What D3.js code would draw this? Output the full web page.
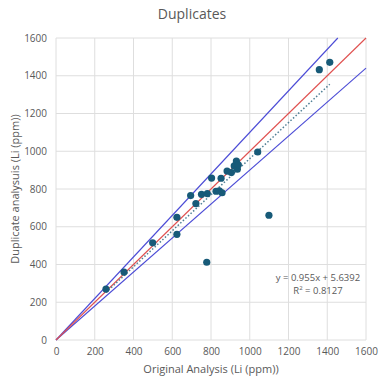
<!DOCTYPE html>
<html>
<head>
<meta charset="utf-8">
<script src="https://cdn.jsdelivr.net/npm/d3@7"></script>
<style>
  body { margin: 0; background: #fff; }
  text { font-family: "Open Sans", "Noto Sans", sans-serif; fill: #595959; }
</style>
</head>
<body>
<div class="viz"></div>
<script>
// data: original vs duplicate (Li ppm)
var original  = [258, 351, 499, 624, 624, 695, 722, 751, 781, 803, 826, 843, 857, 852, 883, 905, 920, 931, 936, 941, 1041, 1099, 778, 1359, 1413];
var duplicate = [270, 360, 515, 560, 650, 765, 723, 772, 776, 858, 788, 790, 780, 857, 895, 887, 922, 948, 905, 928, 996, 661, 412, 1432, 1471];
var ticks = [0, 200, 400, 600, 800, 1000, 1200, 1400, 1600];
var trendSlope = 0.955, trendIntercept = 5.6392;
var limitSlopes = [1.1, 0.9];

var w = 383, h = 384;
var padLeft = 56, padRight = 366, padTop = 38, padBottom = 340;

var xScale = d3.scaleLinear().domain([0, 1600]).range([padLeft, padRight]);
var yScale = d3.scaleLinear().domain([0, 1600]).range([padBottom, padTop]);

var svg = d3.select(".viz").append("svg")
    .attr("width", w)
    .attr("height", h);

// gridlines
svg.append("g").selectAll("line")
    .data(ticks).enter().append("line")
    .attr("x1", d => xScale(d)).attr("x2", d => xScale(d))
    .attr("y1", padTop).attr("y2", padBottom)
    .attr("stroke", "#dedede").attr("stroke-width", 1);
svg.append("g").selectAll("line")
    .data(ticks).enter().append("line")
    .attr("x1", padLeft).attr("x2", padRight)
    .attr("y1", d => yScale(d)).attr("y2", d => yScale(d))
    .attr("stroke", "#dedede").attr("stroke-width", 1);

// axes (labels only)
var xaxis = d3.axisBottom(xScale).tickValues(ticks).tickFormat(d3.format("d")).tickSize(0).tickPadding(8);
var yaxis = d3.axisLeft(yScale).tickValues(ticks).tickFormat(d3.format("d")).tickSize(0).tickPadding(9);
svg.append("g").attr("transform", "translate(0," + padBottom + ")").call(xaxis)
    .call(g => g.select(".domain").remove())
    .selectAll("text").attr("font-size", "10px").attr("fill", "#595959");
svg.append("g").attr("transform", "translate(" + padLeft + ",0)").call(yaxis)
    .call(g => g.select(".domain").remove())
    .selectAll("text").attr("font-size", "10px").attr("fill", "#595959");

// +/-10% lines and 1:1 line
var line = d3.line().x(d => xScale(d[0])).y(d => yScale(d[1]));
limitSlopes.forEach(function(s) {
    var xEnd = Math.min(1600, 1600 / s);
    svg.append("path")
        .attr("d", line([[0, 0], [xEnd, xEnd * s]]))
        .attr("stroke", "#4b4bd6").attr("stroke-width", 1.1).attr("fill", "none");
});
svg.append("path")
    .attr("d", line([[0, 0], [1600, 1600]]))
    .attr("stroke", "#e0504f").attr("stroke-width", 1.1).attr("fill", "none");

// linear trendline (dotted)
var xMin = d3.min(original), xMax = d3.max(original);
svg.append("path")
    .attr("d", line([[xMin, trendSlope * xMin + trendIntercept], [xMax, trendSlope * xMax + trendIntercept]]))
    .attr("stroke", "#4f7f95").attr("stroke-width", 1.5)
    .attr("stroke-dasharray", "1.5,2").attr("fill", "none");

// points
svg.selectAll("circle")
    .data(original)
    .enter()
    .append("circle")
    .attr("cx", d => xScale(d))
    .attr("cy", (d, i) => yScale(duplicate[i]))
    .attr("r", 3.6)
    .attr("fill", "#175a78");

// title
svg.append("text")
    .attr("x", 192).attr("y", 19)
    .attr("text-anchor", "middle")
    .attr("font-size", "14px")
    .text("Duplicates");

// axis titles
svg.append("text")
    .attr("x", (padLeft + padRight) / 2).attr("y", 373)
    .attr("text-anchor", "middle")
    .attr("font-size", "11px")
    .text("Original Analysis (Li (ppm))");
svg.append("text")
    .attr("transform", "translate(19," + (padTop + padBottom) / 2 + ") rotate(-90)")
    .attr("text-anchor", "middle")
    .attr("font-size", "11px")
    .text("Duplicate analysuis (Li (ppm))");

// trendline equation
svg.append("text")
    .attr("x", 318).attr("y", 281)
    .attr("text-anchor", "middle")
    .attr("font-size", "9.5px")
    .text("y = 0.955x + 5.6392");
var r2 = svg.append("text")
    .attr("x", 318).attr("y", 294)
    .attr("text-anchor", "middle")
    .attr("font-size", "9.5px");
r2.append("tspan").text("R");
r2.append("tspan").attr("dy", -4).attr("font-size", "6px").text("2");
r2.append("tspan").attr("dy", 4).text(" = 0.8127");
</script>
</body>
</html>
